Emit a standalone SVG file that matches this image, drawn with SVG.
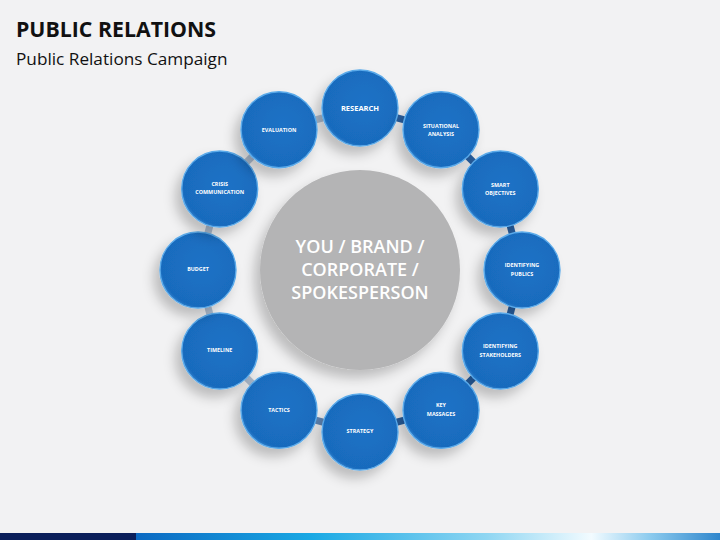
<svg xmlns="http://www.w3.org/2000/svg" width="720" height="540" viewBox="0 0 720 540">
  <defs>
    <style>
      .title{font-family:"Open Sans","Liberation Sans",sans-serif;font-weight:700;font-size:21.3px;fill:#111}
      .sub{font-family:"Open Sans","Liberation Sans",sans-serif;font-size:17.2px;fill:#111}
      .lbl{font-family:"Open Sans","Liberation Sans",sans-serif;font-weight:700;font-size:5.4px;fill:#fff;text-anchor:middle}
      .lbl-big{font-family:"Open Sans","Liberation Sans",sans-serif;font-weight:700;font-size:7.5px;fill:#fff;text-anchor:middle}
      .core{font-family:"Open Sans","Liberation Sans",sans-serif;font-weight:600;font-size:18px;fill:#fff;text-anchor:middle}
      .node circle{fill:url(#blue);stroke:#5aaaea;stroke-width:1.4}
      .lnk-l{stroke:#aebdd0;stroke-width:7}
      .lnk-r{stroke:#2860a2;stroke-width:7}
      .lnk-m{stroke:#5f86b6;stroke-width:7}
    </style>
    <radialGradient id="blue" cx="0.55" cy="0.45" r="0.6">
      <stop offset="0" stop-color="#1c72c6"/>
      <stop offset="0.88" stop-color="#196bbd"/>
      <stop offset="1" stop-color="#3a8ad6"/>
    </radialGradient>
    <filter id="sh" x="-50%" y="-50%" width="200%" height="200%">
      <feDropShadow dx="-6" dy="8" stdDeviation="6" flood-color="#000" flood-opacity="0.22"/>
    </filter>
    <linearGradient id="bar" x1="0" y1="0" x2="1" y2="0">
      <stop offset="0" stop-color="#0b69c2"/>
      <stop offset="0.3" stop-color="#19a9e4"/>
      <stop offset="0.6" stop-color="#8fd6f2"/>
      <stop offset="0.78" stop-color="#f2fbff"/>
      <stop offset="0.88" stop-color="#8ccbee"/>
      <stop offset="1" stop-color="#2f86cc"/>
    </linearGradient>
  </defs>
  <rect x="0" y="0" width="720" height="540" fill="#f2f2f3"/>
  <text class="title" x="16" y="37">PUBLIC RELATIONS</text>
  <text class="sub" x="16" y="65">Public Relations Campaign</text>

  <g id="connectors">
    <line class="lnk-r" x1="360" y1="108" x2="441" y2="129.7"/>
    <line class="lnk-r" x1="441" y1="129.7" x2="500.3" y2="189"/>
    <line class="lnk-r" x1="500.3" y1="189" x2="522" y2="270"/>
    <line class="lnk-r" x1="522" y1="270" x2="500.3" y2="351"/>
    <line class="lnk-r" x1="500.3" y1="351" x2="441" y2="410.3"/>
    <line class="lnk-r" x1="441" y1="410.3" x2="360" y2="432"/>
    <line class="lnk-m" x1="360" y1="432" x2="279" y2="410.3"/>
    <line class="lnk-l" x1="279" y1="410.3" x2="219.7" y2="351"/>
    <line class="lnk-l" x1="219.7" y1="351" x2="198" y2="270"/>
    <line class="lnk-l" x1="198" y1="270" x2="219.7" y2="189"/>
    <line class="lnk-l" x1="219.7" y1="189" x2="279" y2="129.7"/>
    <line class="lnk-l" x1="279" y1="129.7" x2="360" y2="108"/>
  </g>

  <g id="core">
    <circle cx="360" cy="270" r="100" fill="#b4b4b5" filter="url(#sh)"/>
    <text class="core" x="360" y="253">YOU / BRAND /</text>
    <text class="core" x="360" y="276">CORPORATE /</text>
    <text class="core" x="360" y="299">SPOKESPERSON</text>
  </g>

  <g id="research" class="node"><circle cx="360" cy="108" r="38" filter="url(#sh)"/><text class="lbl-big" x="360" y="110.5">RESEARCH</text></g>
  <g id="situational" class="node"><circle cx="441" cy="129.7" r="38" filter="url(#sh)"/><text class="lbl" x="441" y="127.5">SITUATIONAL</text><text class="lbl" x="441" y="136">ANALYSIS</text></g>
  <g id="smart" class="node"><circle cx="500.3" cy="189" r="38" filter="url(#sh)"/><text class="lbl" x="500.3" y="186.5">SMART</text><text class="lbl" x="500.3" y="195">OBJECTIVES</text></g>
  <g id="publics" class="node"><circle cx="522" cy="270" r="38" filter="url(#sh)"/><text class="lbl" x="522" y="267">IDENTIFYING</text><text class="lbl" x="522" y="275.5">PUBLICS</text></g>
  <g id="stakeholders" class="node"><circle cx="500.3" cy="351" r="38" filter="url(#sh)"/><text class="lbl" x="500.3" y="348">IDENTIFYING</text><text class="lbl" x="500.3" y="356.5">STAKEHOLDERS</text></g>
  <g id="key" class="node"><circle cx="441" cy="410.3" r="38" filter="url(#sh)"/><text class="lbl" x="441" y="407">KEY</text><text class="lbl" x="441" y="415.5">MASSAGES</text></g>
  <g id="strategy" class="node"><circle cx="360" cy="432" r="38" filter="url(#sh)"/><text class="lbl" x="360" y="433">STRATEGY</text></g>
  <g id="tactics" class="node"><circle cx="279" cy="410.3" r="38" filter="url(#sh)"/><text class="lbl" x="279" y="411.5">TACTICS</text></g>
  <g id="timeline" class="node"><circle cx="219.7" cy="351" r="38" filter="url(#sh)"/><text class="lbl" x="219.7" y="352">TIMELINE</text></g>
  <g id="budget" class="node"><circle cx="198" cy="270" r="38" filter="url(#sh)"/><text class="lbl" x="198" y="271">BUDGET</text></g>
  <g id="crisis" class="node"><circle cx="219.7" cy="189" r="38" filter="url(#sh)"/><text class="lbl" x="219.7" y="185.5">CRISIS</text><text class="lbl" x="219.7" y="194">COMMUNICATION</text></g>
  <g id="evaluation" class="node"><circle cx="279" cy="129.7" r="38" filter="url(#sh)"/><text class="lbl" x="279" y="131.5">EVALUATION</text></g>

  <rect x="0" y="533" width="136" height="7" fill="#0b1f5a"/>
  <rect x="136" y="533" width="584" height="7" fill="url(#bar)"/>
</svg>
